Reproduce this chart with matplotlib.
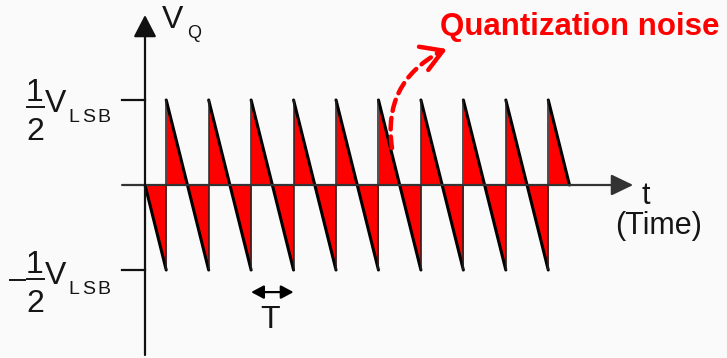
import matplotlib
matplotlib.use("Agg")
import matplotlib.pyplot as plt
from matplotlib.lines import Line2D

# Quantization error sawtooth: time in units of T, amplitude in units of V_LSB
jump_times = [0.5, 1.5, 2.5, 3.5, 4.5, 5.5, 6.5, 7.5, 8.5, 9.5]
t_start, t_end = 0.0, 10.0
v_low, v_high = -0.5, 0.5
tick_levels = [0.5, -0.5]
period_marker = (2.5, 3.5)

W, H = 727, 358
BG = "#fafafa"
RED = "#ff0000"
INK = "#151515"
plt.rcParams["font.family"] = ["Liberation Sans", "DejaVu Sans"]

fig = plt.figure(figsize=(W / 100, H / 100), dpi=100)
fig.patch.set_facecolor(BG)
ax = fig.add_axes([0, 0, 1, 1])
ax.set_facecolor(BG)
ax.axis("off")

# pixel scale of one period and of one LSB, origin of the plot
T_PX, V_PX, X0, Y0 = 42.45, 170.0, 145.0, 185.0
ax.set_xlim(-X0 / T_PX, (W - X0) / T_PX)
ax.set_ylim((Y0 - H) / V_PX, Y0 / V_PX)


def fx(px):
    return px / W


def fy(py):
    return 1 - py / H


# build the sawtooth polyline
t = [t_start]
v = [0.0]
for j in jump_times:
    t += [j, j]
    v += [v_low, v_high]
t.append(t_end)
v.append(0.0)

ax.fill_between(t, v, 0, color=RED, lw=0, zorder=2)
# slanted edges
for i in range(0, len(t) - 1, 2):
    ax.plot(t[i:i + 2], v[i:i + 2], color="black", lw=2.2,
            solid_capstyle="round", zorder=3)
# vertical jumps
ax.vlines(jump_times, v_low, v_high, color="#222222", lw=1.1, zorder=3)

# axes with arrow heads
ax.annotate("", xy=(11.5, 0), xytext=(-0.54, 0),
            arrowprops=dict(arrowstyle="-|>,head_length=1.35,head_width=0.65",
                            lw=1.6, color="#333333", shrinkA=0, shrinkB=0),
            zorder=4)
ax.annotate("", xy=(0, 1.0), xytext=(0, -1.0),
            arrowprops=dict(arrowstyle="-|>,head_length=1.35,head_width=0.7",
                            lw=1.6, color="#111111", shrinkA=0, shrinkB=0),
            zorder=4)
for lv in tick_levels:
    ax.plot([-0.54, 0], [lv, lv], color="#111111", lw=1.6, zorder=4)

# period marker
ax.annotate("", xy=(period_marker[1], -0.63), xytext=(period_marker[0], -0.63),
            arrowprops=dict(arrowstyle="<|-|>,head_length=0.75,head_width=0.4",
                            lw=1.6, color="black", shrinkA=0, shrinkB=0))
fig.text(fx(270), fy(320), "T", fontsize=23, ha="center", va="center", color=INK)

# axis labels
fig.text(fx(162), fy(20), "V", fontsize=23, ha="left", va="center", color=INK)
fig.text(fx(187), fy(33.5), "Q", fontsize=13, ha="left", va="center", color=INK)
fig.text(fx(646), fy(196), "t", fontsize=22, ha="center", va="center", color=INK)
fig.text(fx(659), fy(226), "(Time)", fontsize=22, ha="center", va="center", color=INK)


def level_label(yc, negative):
    # stacked fraction 1/2 followed by V with a spaced LSB subscript
    fig.text(fx(35), fy(yc - 14), "1", fontsize=23, ha="center", va="center", color=INK)
    fig.text(fx(35), fy(yc + 25), "2", fontsize=23, ha="center", va="center", color=INK)
    fig.add_artist(Line2D([fx(27), fx(44)], [fy(yc), fy(yc)], color=INK, lw=1.4))
    fig.text(fx(45), fy(yc - 3.5), "V", fontsize=23, ha="left", va="center", color=INK)
    for ch, xc in zip("LSB", (73.5, 88.5, 103.5)):
        fig.text(fx(xc), fy(yc + 10), ch, fontsize=14, ha="center", va="center", color=INK)
    if negative:
        fig.add_artist(Line2D([fx(10), fx(25)], [fy(yc + 1), fy(yc + 1)], color=INK, lw=1.4))


level_label(107, False)
level_label(279, True)

# annotation text and curved dashed arrow
fig.text(fx(440), fy(27), "Quantization noise", fontsize=22.5, fontweight="bold",
         ha="left", va="center", color=RED)
start = (392, H - 148)
end = (440, H - 52)
ax.annotate("", xy=end, xycoords="figure pixels", xytext=start, textcoords="figure pixels",
            arrowprops=dict(arrowstyle="-", lw=3.2, color=RED, linestyle=(0, (2.6, 1.6)),
                            connectionstyle="arc3,rad=-0.35", shrinkA=0, shrinkB=0),
            zorder=5)
ax.annotate("", xy=(447, H - 49), xycoords="figure pixels",
            xytext=(437, H - 53), textcoords="figure pixels",
            arrowprops=dict(arrowstyle="->,head_length=1.5,head_width=0.9", lw=3.2,
                            color=RED, shrinkA=0, shrinkB=0),
            zorder=5)

fig.savefig("out.png", dpi=100, facecolor=BG)
